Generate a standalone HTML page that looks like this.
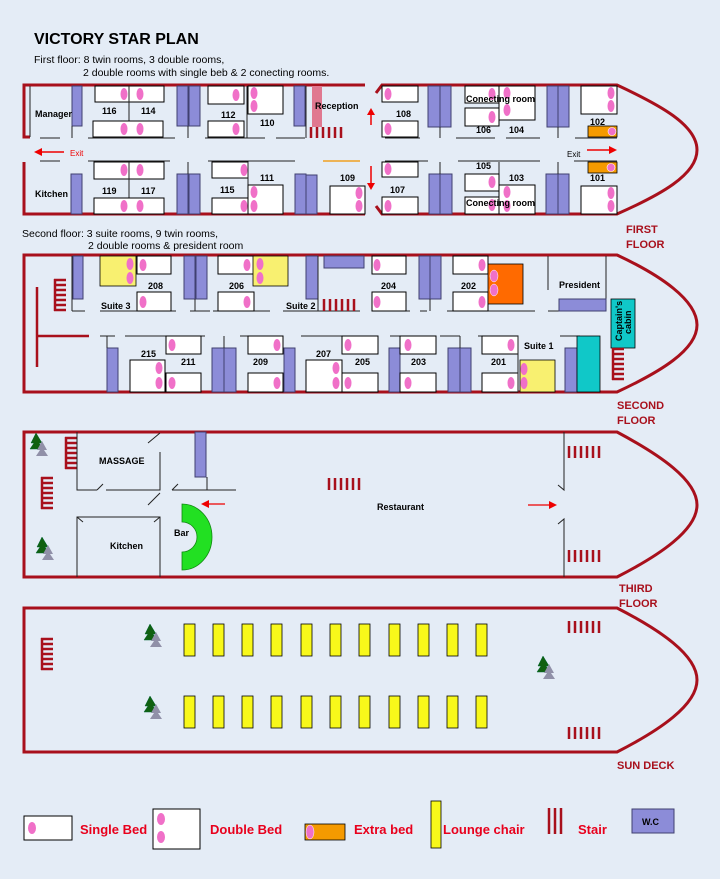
<!DOCTYPE html>
<html><head><meta charset="utf-8"><style>
html,body{margin:0;padding:0;background:#e4ecf6;}
svg{display:block;font-family:"Liberation Sans",sans-serif;}
.h{fill:none;stroke:#a8101c;stroke-width:3}
.w{fill:#8c8cd8;stroke:#404070;stroke-width:1}
.b{fill:#fff;stroke:#000;stroke-width:1}
.p{fill:#f070c8}
.l{stroke:#222;stroke-width:1;fill:none}
.t{font-size:9px;font-weight:bold;fill:#000}
.fl{font-size:11px;font-weight:bold;fill:#a8101c}
.lg{font-size:13px;font-weight:bold;fill:#e8001c}
.st{stroke:#a8101c;stroke-width:2.5}
</style></head><body>
<svg width="720" height="879" viewBox="0 0 720 879">
<defs>
<g id="tree"><polygon points="6,0 12,10 9,10 13,16 0,16 4,10 1,10" fill="#106010" stroke="#063" stroke-width="0.5"/><polygon points="12,8 17,17 14,17 18,23 6,23 10,17 7,17" fill="#9090a8"/></g>
<g id="sth"><line x1="0" y1="1" x2="12" y2="1" class="st"/><line x1="0" y1="6" x2="12" y2="6" class="st"/><line x1="0" y1="11" x2="12" y2="11" class="st"/><line x1="0" y1="16" x2="12" y2="16" class="st"/><line x1="0" y1="21" x2="12" y2="21" class="st"/><line x1="0" y1="26" x2="12" y2="26" class="st"/><line x1="0" y1="31" x2="12" y2="31" class="st"/><line x1="1" y1="0" x2="1" y2="32" class="st" stroke-width="1.5"/></g>
<g id="stv"><line x1="1" y1="0" x2="1" y2="12" class="st"/><line x1="7" y1="0" x2="7" y2="12" class="st"/><line x1="13" y1="0" x2="13" y2="12" class="st"/><line x1="19" y1="0" x2="19" y2="12" class="st"/><line x1="25" y1="0" x2="25" y2="12" class="st"/><line x1="31" y1="0" x2="31" y2="12" class="st"/></g>
</defs>

<text x="34" y="44" font-size="16" font-weight="bold" fill="#000">VICTORY STAR PLAN</text>
<text x="34" y="63" font-size="10.5" fill="#000">First floor: 8 twin rooms, 3 double rooms,</text>
<text x="83" y="76" font-size="10.5" fill="#000">2 double rooms with single beb &amp; 2 conecting rooms.</text>

<!-- ============ FIRST FLOOR ============ -->
<path class="h" d="M30,137 H24 V85 H365"/>
<path class="h" d="M24,162 V214 H365"/>
<path class="h" d="M376,93 L382,85 H617 C660,105 697,125 697,150 C697,175 660,195 617,214 H382 L376,206"/>
<line x1="30" y1="86" x2="30" y2="137" class="l" stroke-width="2"/>
<!-- corridor lines -->
<path class="l" d="M40,138 H60 M88,138 H175 M205,138 H265 M276,138 H305 M385,138 H420 M456,138 H495 M506,138 H540 M575,138 H617"/>
<path class="l" d="M40,161 H60 M88,161 H170 M208,161 H295 M324,161 H360 M385,161 H428 M458,161 H540 M574,161 H617"/>
<line x1="323" y1="161" x2="360" y2="161" stroke="#f0a020" stroke-width="1.5"/>
<!-- upper left -->
<rect class="w" x="72" y="86" width="10" height="40"/>
<line class="l" x1="72" y1="126" x2="72" y2="138"/>
<rect class="b" x="95" y="86" width="69" height="16"/><line class="l" x1="129" y1="86" x2="129" y2="138"/>
<ellipse class="p" cx="124" cy="94" rx="3.5" ry="6"/><ellipse class="p" cx="140" cy="94" rx="3.5" ry="6"/>
<rect class="b" x="93" y="121" width="70" height="16"/>
<ellipse class="p" cx="124" cy="129" rx="3.5" ry="6"/><ellipse class="p" cx="140" cy="129" rx="3.5" ry="6"/>
<text class="t" x="102" y="114">116</text><text class="t" x="141" y="114">114</text>
<rect class="w" x="177" y="86" width="11" height="40"/><rect class="w" x="189" y="86" width="11" height="40"/>
<line class="l" x1="188" y1="126" x2="188" y2="138"/>
<rect class="b" x="208" y="86" width="36" height="18"/><ellipse class="p" cx="236" cy="95" rx="3.5" ry="6"/>
<rect class="b" x="208" y="121" width="36" height="16"/><ellipse class="p" cx="236" cy="129" rx="3.5" ry="6"/>
<text class="t" x="221" y="118">112</text>
<line class="l" x1="247" y1="86" x2="247" y2="138"/>
<rect class="b" x="248" y="86" width="35" height="28"/><ellipse class="p" cx="254" cy="93" rx="3.5" ry="6"/><ellipse class="p" cx="254" cy="106" rx="3.5" ry="6"/>
<text class="t" x="260" y="126">110</text>
<rect class="w" x="294" y="86" width="11" height="40"/><line class="l" x1="306" y1="86" x2="306" y2="138"/>
<rect x="312" y="86" width="10" height="41" fill="#e07890"/>
<g transform="translate(310,127)"><line x1="1" y1="0" x2="1" y2="11" class="st"/><line x1="7" y1="0" x2="7" y2="11" class="st"/><line x1="13" y1="0" x2="13" y2="11" class="st"/><line x1="19" y1="0" x2="19" y2="11" class="st"/><line x1="25" y1="0" x2="25" y2="11" class="st"/><line x1="31" y1="0" x2="31" y2="11" class="st"/></g>
<text class="t" x="315" y="109">Reception</text>
<text class="t" x="35" y="117">Manager</text>
<!-- exit left -->
<line x1="40" y1="152" x2="64" y2="152" stroke="#e00" stroke-width="1.5"/><polygon points="34,152 42,148 42,156" fill="#e00"/>
<text x="70" y="156" font-size="8" fill="#e00">Exit</text>
<!-- lower left -->
<rect class="w" x="71" y="174" width="11" height="40"/>
<text class="t" x="35" y="197">Kitchen</text>
<rect class="b" x="94" y="162" width="70" height="17"/><line class="l" x1="129" y1="162" x2="129" y2="214"/>
<ellipse class="p" cx="124" cy="170" rx="3.5" ry="6"/><ellipse class="p" cx="140" cy="170" rx="3.5" ry="6"/>
<rect class="b" x="94" y="198" width="70" height="16"/>
<ellipse class="p" cx="124" cy="206" rx="3.5" ry="6"/><ellipse class="p" cx="140" cy="206" rx="3.5" ry="6"/>
<text class="t" x="102" y="194">119</text><text class="t" x="141" y="194">117</text>
<rect class="w" x="177" y="174" width="11" height="40"/><rect class="w" x="189" y="174" width="11" height="40"/>
<line class="l" x1="188" y1="162" x2="188" y2="174"/>
<rect class="b" x="212" y="162" width="36" height="16"/><ellipse class="p" cx="244" cy="170" rx="3.5" ry="6"/>
<rect class="b" x="212" y="198" width="36" height="16"/><ellipse class="p" cx="244" cy="206" rx="3.5" ry="6"/>
<text class="t" x="220" y="193">115</text>
<line class="l" x1="248" y1="162" x2="248" y2="214"/>
<rect class="b" x="248" y="185" width="35" height="29"/><ellipse class="p" cx="254" cy="192" rx="3.5" ry="6"/><ellipse class="p" cx="254" cy="206" rx="3.5" ry="6"/>
<text class="t" x="260" y="181">111</text>
<rect class="w" x="295" y="174" width="11" height="40"/><rect class="w" x="306" y="175" width="11" height="39"/>
<rect class="b" x="330" y="186" width="35" height="28"/><ellipse class="p" cx="359" cy="193" rx="3.5" ry="6"/><ellipse class="p" cx="359" cy="206" rx="3.5" ry="6"/>
<text class="t" x="340" y="181">109</text>
<!-- red arrows mid -->
<line x1="371" y1="112" x2="371" y2="125" stroke="#e00" stroke-width="1.5"/><polygon points="371,108 367,115 375,115" fill="#e00"/>
<line x1="371" y1="166" x2="371" y2="184" stroke="#e00" stroke-width="1.5"/><polygon points="371,190 367,183 375,183" fill="#e00"/>
<!-- right section upper -->
<rect class="b" x="382" y="86" width="36" height="16"/><ellipse class="p" cx="388" cy="94" rx="3.5" ry="6"/>
<rect class="b" x="382" y="121" width="36" height="16"/><ellipse class="p" cx="388" cy="129" rx="3.5" ry="6"/>
<text class="t" x="396" y="117">108</text>
<rect class="w" x="428" y="86" width="12" height="41"/><rect class="w" x="440" y="86" width="11" height="41"/><line class="l" x1="440" y1="127" x2="440" y2="138"/>
<rect class="b" x="465" y="86" width="34" height="17"/><ellipse class="p" cx="492" cy="94" rx="3.5" ry="6"/>
<rect class="b" x="465" y="108" width="34" height="18"/><ellipse class="p" cx="492" cy="117" rx="3.5" ry="6"/>
<rect class="b" x="499" y="86" width="36" height="34"/><ellipse class="p" cx="507" cy="93" rx="3.5" ry="6"/><ellipse class="p" cx="507" cy="110" rx="3.5" ry="6"/>
<text class="t" x="466" y="102" font-weight="normal" font-size="9">Conecting room</text>
<text class="t" x="476" y="133">106</text><text class="t" x="509" y="133">104</text>
<rect class="w" x="547" y="86" width="11" height="41"/><rect class="w" x="558" y="86" width="11" height="41"/><line class="l" x1="558" y1="127" x2="558" y2="138"/>
<rect class="b" x="581" y="86" width="36" height="28"/><ellipse class="p" cx="611" cy="93" rx="3.5" ry="6"/><ellipse class="p" cx="611" cy="106" rx="3.5" ry="6"/>
<text class="t" x="590" y="125">102</text>
<rect x="588" y="126" width="29" height="11" fill="#f59a00" stroke="#000" stroke-width="0.8"/><circle cx="612" cy="131.5" r="4" class="p" stroke="#fff" stroke-width="0.6"/>
<text x="567" y="157" font-size="8" fill="#000">Exit</text>
<line x1="587" y1="150" x2="610" y2="150" stroke="#e00" stroke-width="1.5"/><polygon points="617,150 609,146 609,154" fill="#e00"/>
<!-- right section lower -->
<rect class="b" x="382" y="162" width="36" height="15"/><ellipse class="p" cx="388" cy="169" rx="3.5" ry="6"/>
<rect class="b" x="382" y="197" width="36" height="17"/><ellipse class="p" cx="388" cy="206" rx="3.5" ry="6"/>
<text class="t" x="390" y="193">107</text>
<rect class="w" x="429" y="174" width="11" height="40"/><rect class="w" x="440" y="174" width="12" height="40"/><line class="l" x1="440" y1="162" x2="440" y2="174"/>
<text class="t" x="476" y="169">105</text><text class="t" x="509" y="181">103</text>
<line class="l" x1="499" y1="162" x2="499" y2="185"/>
<rect class="b" x="465" y="174" width="34" height="17"/><ellipse class="p" cx="492" cy="182" rx="3.5" ry="6"/>
<rect class="b" x="465" y="197" width="34" height="17"/>
<rect class="b" x="499" y="185" width="36" height="29"/><ellipse class="p" cx="507" cy="192" rx="3.5" ry="6"/><ellipse class="p" cx="507" cy="206" rx="3.5" ry="6"/>
<ellipse class="p" cx="492" cy="205" rx="3.5" ry="6"/>
<text class="t" x="466" y="206" font-weight="normal" font-size="9">Conecting room</text>
<rect class="w" x="546" y="174" width="12" height="40"/><rect class="w" x="558" y="174" width="11" height="40"/><line class="l" x1="558" y1="162" x2="558" y2="174"/>
<rect x="588" y="162" width="29" height="11" fill="#f59a00" stroke="#000" stroke-width="0.8"/><circle cx="611" cy="167.5" r="4" class="p" stroke="#fff" stroke-width="0.6"/>
<text class="t" x="590" y="181">101</text>
<rect class="b" x="581" y="186" width="36" height="28"/><ellipse class="p" cx="611" cy="193" rx="3.5" ry="6"/><ellipse class="p" cx="611" cy="206" rx="3.5" ry="6"/>
<text class="fl" x="626" y="233">FIRST</text><text class="fl" x="626" y="248">FLOOR</text>

<!-- ============ SECOND FLOOR ============ -->
<text x="22" y="237" font-size="10.5" fill="#000">Second floor: 3 suite rooms, 9 twin rooms,</text>
<text x="88" y="249" font-size="10.5" fill="#000">2 double rooms &amp; president room</text>
<path class="h" d="M24,255 H617 C660,275 697,300 697,325 C697,350 660,372 617,392 H24 Z"/>
<use href="#sth" x="54" y="279"/>
<line x1="37" y1="287" x2="37" y2="367" stroke="#a8101c" stroke-width="2.5"/><line x1="37" y1="336" x2="89" y2="336" stroke="#a8101c" stroke-width="2.5"/>
<path class="l" d="M72,311 H85 M100,311 H176 M190,311 H210 M213,311 H270 M283,311 H360 M373,311 H410 M420,311 H427 M447,311 H535 M548,311 H606"/>
<path class="l" d="M100,336 H115 M125,336 H205 M240,336 H270 M301,336 H375 M390,336 H405 M440,336 H460 M478,336 H515 M560,336 H580"/>
<rect class="w" x="73" y="256" width="10" height="43"/><line class="l" x1="72" y1="256" x2="72" y2="311"/>
<rect x="100" y="256" width="36" height="30" fill="#f8f070" stroke="#000" stroke-width="0.8"/><ellipse class="p" cx="130" cy="264" rx="3.5" ry="6"/><ellipse class="p" cx="130" cy="278" rx="3.5" ry="6"/>
<rect class="b" x="137" y="256" width="34" height="18"/><ellipse class="p" cx="143" cy="265" rx="3.5" ry="6"/>
<rect class="b" x="137" y="292" width="34" height="19"/><ellipse class="p" cx="143" cy="302" rx="3.5" ry="6"/>
<text class="t" x="148" y="289">208</text><text class="t" x="101" y="309">Suite 3</text>
<rect class="w" x="184" y="256" width="11" height="43"/><rect class="w" x="196" y="256" width="11" height="43"/><line class="l" x1="195" y1="299" x2="195" y2="311"/>
<rect class="b" x="218" y="256" width="36" height="18"/><ellipse class="p" cx="247" cy="265" rx="3.5" ry="6"/>
<rect class="b" x="218" y="292" width="36" height="19"/><ellipse class="p" cx="247" cy="302" rx="3.5" ry="6"/>
<rect x="253" y="256" width="35" height="30" fill="#f8f070" stroke="#000" stroke-width="0.8"/><ellipse class="p" cx="260" cy="264" rx="3.5" ry="6"/><ellipse class="p" cx="260" cy="278" rx="3.5" ry="6"/>
<text class="t" x="229" y="289">206</text><text class="t" x="286" y="309">Suite 2</text>
<rect class="w" x="306" y="256" width="12" height="43"/><line class="l" x1="318" y1="256" x2="318" y2="311"/>
<use href="#stv" x="323" y="299"/>
<rect class="w" x="324" y="256" width="40" height="12"/>
<rect class="b" x="372" y="256" width="34" height="18"/><ellipse class="p" cx="377" cy="265" rx="3.5" ry="6"/>
<rect class="b" x="372" y="292" width="34" height="19"/><ellipse class="p" cx="377" cy="302" rx="3.5" ry="6"/>
<text class="t" x="381" y="289">204</text>
<rect class="w" x="419" y="256" width="11" height="43"/><rect class="w" x="430" y="256" width="11" height="43"/><line class="l" x1="430" y1="299" x2="430" y2="311"/>
<rect class="b" x="453" y="256" width="35" height="18"/><ellipse class="p" cx="482" cy="265" rx="3.5" ry="6"/>
<rect class="b" x="453" y="292" width="35" height="19"/><ellipse class="p" cx="482" cy="302" rx="3.5" ry="6"/>
<text class="t" x="461" y="289">202</text>
<rect x="488" y="264" width="35" height="40" fill="#ff6a00" stroke="#000" stroke-width="0.8"/><ellipse class="p" cx="494" cy="276" rx="4" ry="6" stroke="#fff" stroke-width="0.5"/><ellipse class="p" cx="494" cy="290" rx="4" ry="6" stroke="#fff" stroke-width="0.5"/>
<line class="l" x1="548" y1="256" x2="548" y2="290"/><line class="l" x1="606" y1="256" x2="606" y2="311"/>
<rect class="w" x="559" y="299" width="47" height="12"/>
<text class="t" x="559" y="288">President</text>
<rect x="611" y="299" width="24" height="49" fill="#10c8c8" stroke="#000" stroke-width="0.8"/>
<text class="t" x="0" y="0" font-size="8" transform="translate(622,341) rotate(-90)">Captain's</text>
<text class="t" x="0" y="0" font-size="8" transform="translate(631,334) rotate(-90)">cabin</text>
<use href="#sth" x="612" y="348"/>
<!-- lower second -->
<rect class="w" x="107" y="348" width="11" height="44"/><line class="l" x1="107" y1="336" x2="107" y2="348"/>
<rect class="b" x="130" y="360" width="35" height="32"/><ellipse class="p" cx="159" cy="368" rx="3.5" ry="6"/><ellipse class="p" cx="159" cy="383" rx="3.5" ry="6"/>
<text class="t" x="141" y="357">215</text>
<rect class="b" x="166" y="336" width="35" height="18"/><ellipse class="p" cx="172" cy="345" rx="3.5" ry="6"/>
<rect class="b" x="166" y="373" width="35" height="19"/><ellipse class="p" cx="172" cy="383" rx="3.5" ry="6"/>
<text class="t" x="181" y="365">211</text>
<rect class="w" x="212" y="348" width="12" height="44"/><rect class="w" x="224" y="348" width="12" height="44"/><line class="l" x1="224" y1="336" x2="224" y2="348"/>
<rect class="b" x="248" y="336" width="35" height="18"/><ellipse class="p" cx="277" cy="345" rx="3.5" ry="6"/>
<rect class="b" x="248" y="373" width="35" height="19"/><ellipse class="p" cx="277" cy="383" rx="3.5" ry="6"/>
<text class="t" x="253" y="365">209</text>
<rect class="w" x="284" y="348" width="11" height="44"/>
<rect class="b" x="306" y="360" width="36" height="32"/><ellipse class="p" cx="336" cy="368" rx="3.5" ry="6"/><ellipse class="p" cx="336" cy="383" rx="3.5" ry="6"/>
<text class="t" x="316" y="357">207</text>
<rect class="b" x="342" y="336" width="36" height="18"/><ellipse class="p" cx="348" cy="345" rx="3.5" ry="6"/>
<rect class="b" x="342" y="373" width="36" height="19"/><ellipse class="p" cx="348" cy="383" rx="3.5" ry="6"/>
<text class="t" x="355" y="365">205</text>
<rect class="w" x="389" y="348" width="11" height="44"/>
<rect class="b" x="400" y="336" width="36" height="18"/><ellipse class="p" cx="408" cy="345" rx="3.5" ry="6"/>
<rect class="b" x="400" y="373" width="36" height="19"/><ellipse class="p" cx="408" cy="383" rx="3.5" ry="6"/>
<text class="t" x="411" y="365">203</text>
<rect class="w" x="448" y="348" width="12" height="44"/><rect class="w" x="460" y="348" width="11" height="44"/><line class="l" x1="460" y1="336" x2="460" y2="348"/>
<rect class="b" x="482" y="336" width="36" height="18"/><ellipse class="p" cx="511" cy="345" rx="3.5" ry="6"/>
<rect class="b" x="482" y="373" width="36" height="19"/><ellipse class="p" cx="511" cy="383" rx="3.5" ry="6"/>
<text class="t" x="491" y="365">201</text>
<line class="l" x1="518" y1="336" x2="518" y2="392"/>
<text class="t" x="524" y="349">Suite 1</text>
<rect x="520" y="360" width="35" height="32" fill="#f8f070" stroke="#000" stroke-width="0.8"/><ellipse class="p" cx="524" cy="369" rx="3.5" ry="6"/><ellipse class="p" cx="524" cy="383" rx="3.5" ry="6"/>
<rect class="w" x="565" y="348" width="12" height="44"/>
<rect x="577" y="336" width="23" height="56" fill="#10c8c8" stroke="#000" stroke-width="0.8"/>
<text class="fl" x="617" y="409">SECOND</text><text class="fl" x="617" y="424">FLOOR</text>

<!-- ============ THIRD FLOOR ============ -->
<path class="h" d="M24,432 H617 C660,455 697,480 697,505 C697,530 660,555 617,577 H24 Z"/>
<use href="#tree" x="30" y="433"/><use href="#tree" x="36" y="537"/>
<use href="#sth" x="65" y="437"/><use href="#sth" x="41" y="477"/>
<path class="l" d="M77,432 V490 H97 M106,490 H160 V452 M172,490 H236 M184,490 H236 M207,477 V490"/>
<path class="l" d="M148,443 L160,433 M97,490 L103,484 M172,490 L178,484 M148,505 L160,493"/>
<path class="l" d="M77,577 V517 H160 V577 M77,517 L83,522 M160,517 L154,522"/>
<rect class="w" x="195" y="432" width="11" height="45"/>
<path d="M182,504 A30,33 0 0 1 182,570 L182,552 A15,15 0 0 0 182,522 Z" fill="#22e022" stroke="#118811" stroke-width="0.8"/>
<text class="t" x="99" y="464" font-weight="normal">MASSAGE</text>
<text class="t" x="110" y="549" font-weight="normal">Kitchen</text>
<text class="t" x="174" y="536" font-weight="normal">Bar</text>
<line x1="208" y1="504" x2="225" y2="504" stroke="#e00" stroke-width="1.2"/><polygon points="201,504 209,500 209,508" fill="#e00"/>
<use href="#stv" x="328" y="478"/>
<text class="t" x="377" y="510" font-weight="normal" font-size="8">Restaurant</text>
<path class="l" d="M564,432 V490 L558,485 M564,577 V519 L558,524"/>
<use href="#stv" x="568" y="446"/><use href="#stv" x="568" y="550"/>
<line x1="528" y1="505" x2="551" y2="505" stroke="#e00" stroke-width="1.2"/><polygon points="557,505 549,501 549,509" fill="#e00"/>
<text class="fl" x="619" y="592">THIRD</text><text class="fl" x="619" y="607">FLOOR</text>

<!-- ============ SUN DECK ============ -->
<path class="h" d="M24,608 H617 C660,630 697,655 697,680 C697,705 660,730 617,752 H24 Z"/>
<use href="#sth" x="41" y="638"/>
<use href="#tree" x="144" y="624"/><use href="#tree" x="144" y="696"/><use href="#tree" x="537" y="656"/>
<g fill="#f8f81a" stroke="#000" stroke-width="0.8">
<rect x="184" y="624" width="11" height="32"/><rect x="213" y="624" width="11" height="32"/><rect x="242" y="624" width="11" height="32"/><rect x="271" y="624" width="11" height="32"/><rect x="301" y="624" width="11" height="32"/><rect x="330" y="624" width="11" height="32"/><rect x="359" y="624" width="11" height="32"/><rect x="389" y="624" width="11" height="32"/><rect x="418" y="624" width="11" height="32"/><rect x="447" y="624" width="11" height="32"/><rect x="476" y="624" width="11" height="32"/>
<rect x="184" y="696" width="11" height="32"/><rect x="213" y="696" width="11" height="32"/><rect x="242" y="696" width="11" height="32"/><rect x="271" y="696" width="11" height="32"/><rect x="301" y="696" width="11" height="32"/><rect x="330" y="696" width="11" height="32"/><rect x="359" y="696" width="11" height="32"/><rect x="389" y="696" width="11" height="32"/><rect x="418" y="696" width="11" height="32"/><rect x="447" y="696" width="11" height="32"/><rect x="476" y="696" width="11" height="32"/>
</g>
<use href="#stv" x="568" y="621"/><use href="#stv" x="568" y="727"/>
<text class="fl" x="617" y="769">SUN DECK</text>

<!-- ============ LEGEND ============ -->
<rect class="b" x="24" y="816" width="48" height="24"/><ellipse class="p" cx="32" cy="828" rx="4" ry="6"/>
<text class="lg" x="80" y="834">Single Bed</text>
<rect class="b" x="153" y="809" width="47" height="40"/><ellipse class="p" cx="161" cy="819" rx="4" ry="6"/><ellipse class="p" cx="161" cy="837" rx="4" ry="6"/>
<text class="lg" x="210" y="834">Double Bed</text>
<rect x="305" y="824" width="40" height="16" fill="#f59a00" stroke="#000" stroke-width="0.8"/><ellipse class="p" cx="310" cy="832" rx="4" ry="7" stroke="#fff" stroke-width="0.5"/>
<text class="lg" x="354" y="834">Extra bed</text>
<rect x="431" y="801" width="10" height="47" fill="#f8f81a" stroke="#000" stroke-width="0.8"/>
<text class="lg" x="443" y="834">Lounge chair</text>
<line x1="549" y1="808" x2="549" y2="834" class="st"/><line x1="555" y1="808" x2="555" y2="834" class="st"/><line x1="561" y1="808" x2="561" y2="834" class="st"/>
<text class="lg" x="578" y="834">Stair</text>
<rect class="w" x="632" y="809" width="42" height="24"/><text class="t" x="642" y="825">W.C</text>
</svg>
</body></html>
